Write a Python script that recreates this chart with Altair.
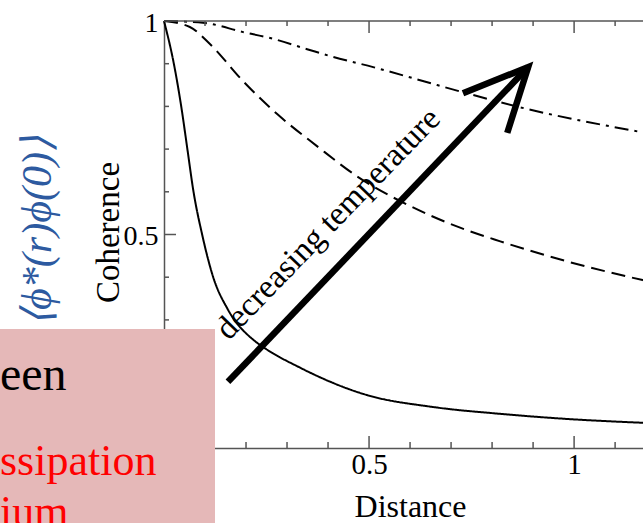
import altair as alt
import pandas as pd

# Coherence vs distance at three temperatures
solid_x = [0, 0.024, 0.042, 0.057, 0.072, 0.093, 0.12, 0.156, 0.217, 0.241, 0.332, 0.495, 0.656, 0.82, 0.983, 1.168]
solid_y = [1, 0.9, 0.8, 0.7, 0.6, 0.5, 0.4, 0.324, 0.254, 0.237, 0.188, 0.124, 0.096, 0.080, 0.068, 0.059]

dashed_x = [0, 0.063, 0.112, 0.193, 0.276, 0.373, 0.471, 0.593, 0.722, 0.82, 0.983, 1.168]
dashed_y = [1, 0.986, 0.946, 0.859, 0.782, 0.707, 0.636, 0.570, 0.516, 0.484, 0.437, 0.393]

dashdot_x = [0, 0.095, 0.193, 0.259, 0.349, 0.412, 0.51, 0.666, 0.722, 0.868, 1.168]
dashdot_y = [1, 0.996, 0.974, 0.960, 0.934, 0.916, 0.892, 0.850, 0.835, 0.798, 0.739]

# axis ticks (the origin labels sit under the callout box)
tick_values = [0.5, 1]
x_minor = [0.1, 0.2, 0.3, 0.4, 0.6, 0.7, 0.8, 0.9, 1.1]
x_major = [0.5, 1.0]
y_minor = [0.1, 0.2, 0.3, 0.4, 0.6, 0.7, 0.8, 0.9]
y_major = [0.5]

# arrow annotation (data coordinates)
arrow_tail = (0.156, 0.155)
arrow_tip = (0.888, 0.892)
arrow_arms = [(0.729, 0.831), (0.837, 0.738)]
arrow_label = ["decreasing temperature"]
arrow_label_pos = (0.40, 0.525)

side_label = ["⟨ϕ*(r)ϕ(0)⟩"]
box_lines = ["een", "ssipation", "ium"]

W, H = 479, 427
SERIF = "Liberation Serif"
FRAME = "#555555"

xscale = alt.Scale(domain=[0, 1.168], nice=False, zero=False)
yscale = alt.Scale(domain=[0, 1], nice=False)

xaxis = alt.Axis(values=tick_values, format="~g", ticks=False, tickSize=0, grid=False,
                 domainColor=FRAME, domainWidth=1.5, labelFont=SERIF, labelFontSize=29,
                 labelColor="black", labelPadding=2, labelOverlap=False, labelFlush=False,
                 title="Distance", titleFont=SERIF, titleFontSize=32, titleFontWeight="normal",
                 titleColor="black", titleX=246, titleY=68, titleBaseline="alphabetic",
                 zindex=0)
yaxis = alt.Axis(values=tick_values, format="~g", ticks=False, tickSize=0, grid=False,
                 domainColor=FRAME, domainWidth=1.5, labelFont=SERIF, labelFontSize=28,
                 labelColor="black", labelPadding=6, labelOverlap=False, labelOffset=2,
                 title="Coherence", titleFont=SERIF, titleFontSize=33, titleFontWeight="normal",
                 titleColor="black", titleAngle=270, titleX=-46, titleY=211,
                 titleBaseline="alphabetic", titleAlign="center", zindex=0)


def X(field):
    return alt.X(field, scale=xscale, axis=xaxis)


def Y(field):
    return alt.Y(field, scale=yscale, axis=yaxis)


def curve(xs, ys, dash):
    df = pd.DataFrame({"distance": xs, "coherence": ys})
    return alt.Chart(df).mark_line(color="black", strokeWidth=2, interpolate="monotone",
                                   strokeDash=dash).encode(
        x=X("distance:Q"), y=Y("coherence:Q"), order="distance:Q")


solid = curve(solid_x, solid_y, [1, 0])
dashed = curve(dashed_x, dashed_y, [14, 7])
dashdot = curve(dashdot_x, dashdot_y, [14, 6, 3, 6])

# top frame line
top_line = alt.Chart(pd.DataFrame({"k": [0]})).mark_rule(color=FRAME, strokeWidth=1.5).encode(
    x=alt.value(0), x2=alt.value(W), y=alt.value(0))


def xticks(vals, y0, y1):
    return alt.Chart(pd.DataFrame({"distance": vals})).mark_rule(
        color=FRAME, strokeWidth=1.5).encode(x=X("distance:Q"), y=alt.value(y0), y2=alt.value(y1))


def yticks(vals, x0, x1):
    return alt.Chart(pd.DataFrame({"coherence": vals})).mark_rule(
        color=FRAME, strokeWidth=1.5).encode(y=Y("coherence:Q"), x=alt.value(x0), x2=alt.value(x1))


ticks = [
    xticks(x_minor, H, H - 6), xticks(x_major, H, H - 12),
    xticks(x_minor, 0, 5), xticks(x_major, 0, 12),
    yticks(y_minor, 0, 5), yticks(y_major, 0, 12),
]

# arrow: shaft plus open head
shaft = alt.Chart(pd.DataFrame({"distance": [arrow_tail[0]], "coherence": [arrow_tail[1]],
                                "x2": [arrow_tip[0]], "y2": [arrow_tip[1]]})).mark_rule(
    color="black", strokeWidth=6.5, strokeCap="butt").encode(
    x=X("distance:Q"), y=Y("coherence:Q"), x2="x2:Q", y2="y2:Q")

head_df = pd.DataFrame({
    "distance": [arrow_arms[0][0], arrow_tip[0], arrow_arms[1][0]],
    "coherence": [arrow_arms[0][1], arrow_tip[1], arrow_arms[1][1]],
    "i": [0, 1, 2],
})
head = alt.Chart(head_df).mark_line(color="black", strokeWidth=6.5, strokeCap="butt",
                                    strokeJoin="miter", strokeMiterLimit=10).encode(
    x=X("distance:Q"), y=Y("coherence:Q"), order="i:Q")

arrow_text = alt.Chart(pd.DataFrame({"label": arrow_label, "distance": [arrow_label_pos[0]],
                                     "coherence": [arrow_label_pos[1]]})).mark_text(
    font=SERIF, fontSize=33, angle=314, align="center", baseline="middle", color="black").encode(
    x=X("distance:Q"), y=Y("coherence:Q"), text="label:N")

# blue correlator label at the far left
side = alt.Chart(pd.DataFrame({"label": side_label})).mark_text(
    font=SERIF, fontSize=42, fontStyle="italic", angle=270, align="center", baseline="middle",
    color="#2d5aa0").encode(x=alt.value(-126), y=alt.value(210), text="label:N")

# overlaid callout box
box = alt.Chart(pd.DataFrame({"k": [0]})).mark_rect(color="#e5b8b8").encode(
    x=alt.value(-164), x2=alt.value(51), y=alt.value(308), y2=alt.value(502))

box_text1 = alt.Chart(pd.DataFrame({"label": [box_lines[0]]})).mark_text(
    font=SERIF, fontSize=48, align="left", baseline="alphabetic", color="black").encode(
    x=alt.value(-164), y=alt.value(369), text="label:N")
box_text2 = alt.Chart(pd.DataFrame({"label": [box_lines[1]]})).mark_text(
    font=SERIF, fontSize=44, align="left", baseline="alphabetic", color="#ff0000").encode(
    x=alt.value(-164), y=alt.value(454), text="label:N")
box_text3 = alt.Chart(pd.DataFrame({"label": [box_lines[2]]})).mark_text(
    font=SERIF, fontSize=44, align="left", baseline="alphabetic", color="#ff0000").encode(
    x=alt.value(-164), y=alt.value(505), text="label:N")

chart = alt.layer(
    solid, dashed, dashdot, top_line, *ticks, shaft, head, arrow_text, side,
    box, box_text1, box_text2, box_text3,
).properties(
    width=W, height=H,
    padding={"left": 164, "top": 21, "right": 0, "bottom": 75},
    autosize=alt.AutoSizeParams(type="none"),
    background="white",
).configure_view(stroke=None)

chart.save("out.html", embed_options={"renderer": "svg", "actions": False})
